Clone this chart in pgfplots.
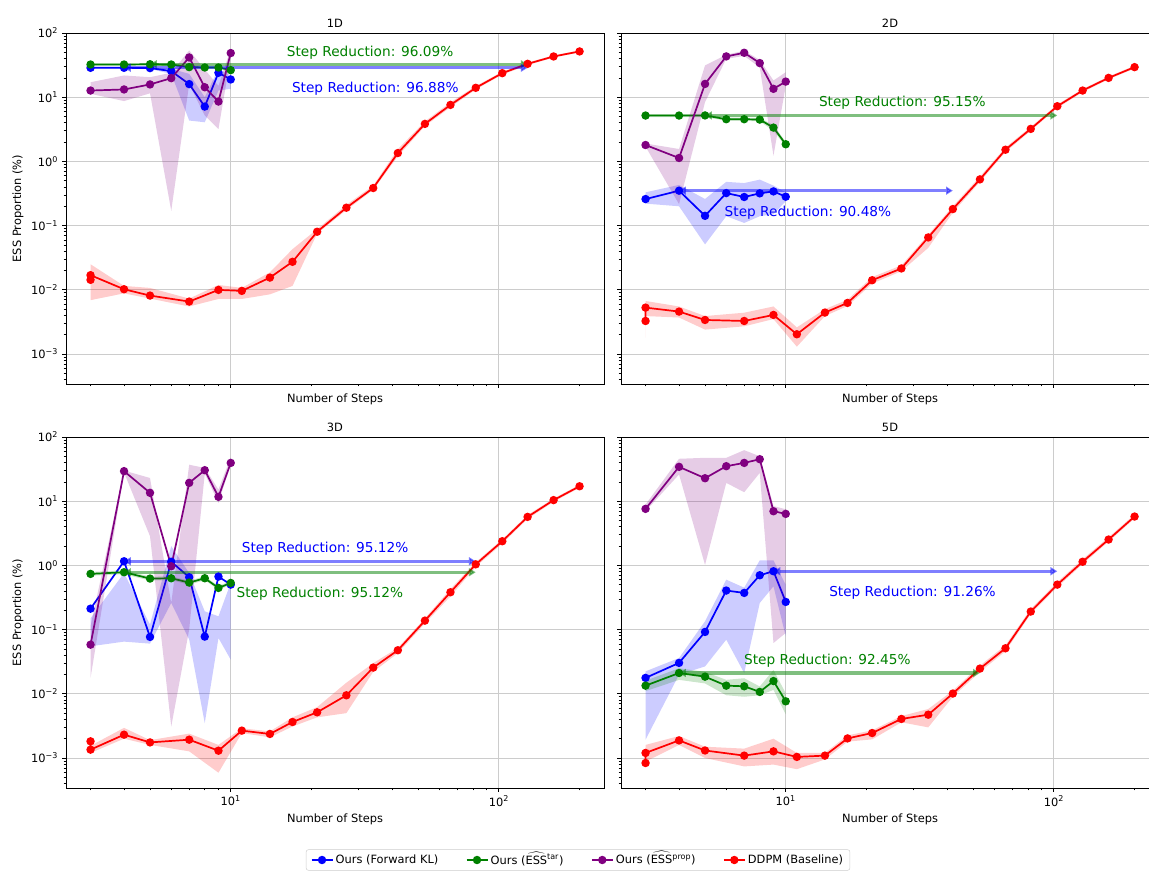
\documentclass[border=0pt]{standalone}
\usepackage{amsmath}
\usepackage{fontspec}
\setmainfont{DejaVu Sans}
\usepackage{pgfplots}
\pgfplotsset{compat=1.18}
\usetikzlibrary{arrows.meta}
\definecolor{mblue}{rgb}{0,0,1}
\definecolor{mgreen}{rgb}{0,0.5,0}
\definecolor{mpurple}{rgb}{0.5,0,0.5}
\definecolor{mred}{rgb}{1,0,0}
\definecolor{gridgray}{rgb}{0.80,0.80,0.80}
\definecolor{legframe}{rgb}{0.8,0.8,0.8}
\pgfplotsset{
  every axis/.append style={
    scale only axis, width=471.83pt, height=307.83pt,
    xmin=2.43, xmax=246.7, ymin=3.41e-4, ymax=100,
    tick align=outside, xtick pos=left, ytick pos=left,
    major tick length=3.5pt, minor tick length=2pt,
    tick style={black, line width=0.8pt},
    minor tick style={line width=0.6pt},
    grid=major, major grid style={line width=0.8pt, color=gridgray},
    axis line style={line width=0.8pt},
    title style={at={(0.5,1)}, anchor=base, yshift=-1pt, inner sep=0pt},
    xlabel={Number of Steps},
  },
}
\newcommand{\sr}{\fontsize{12}{14}\selectfont}
\begin{document}
\begin{tikzpicture}
% ---------------- 1D ----------------
\begin{axis}[xmode=log, ymode=log, title={1D}, at={(57.88pt,-28.94pt)}, anchor=north west,
  xtick={10,100}, minor xtick={3,4,5,6,7,8,9,20,30,40,50,60,70,80,90,200},
  ytick={1e-3,1e-2,1e-1,1,10,100},
  minor ytick={4e-4,5e-4,6e-4,7e-4,8e-4,9e-4,2e-3,3e-3,4e-3,5e-3,6e-3,7e-3,8e-3,9e-3,0.02,0.03,0.04,0.05,0.06,0.07,0.08,0.09,0.2,0.3,0.4,0.5,0.6,0.7,0.8,0.9,2,3,4,5,6,7,8,9,20,30,40,50,60,70,80,90},
  xticklabels={}, xlabel style={at={(axis description cs:0.5,0)}, anchor=base, yshift=-15.9pt},
  yticklabels={10\textsuperscript{−3},10\textsuperscript{−2},10\textsuperscript{−1},10\textsuperscript{0},10\textsuperscript{1},10\textsuperscript{2}},
  ylabel={ESS Proportion (\%)}, ylabel style={at={(axis description cs:-0.0892,0.5)}, anchor=center}]
\addplot[forget plot, draw=none, fill=mblue, fill opacity=0.2] coordinates {(3,29.6)(4,29.6)(5,29.4)(6,27.7)(7,23.1)(8,10)(9,27.7)(10,21.8)(10,13.5)(9,12.7)(8,4.07)(7,4.33)(6,23.1)(5,27.5)(4,27.8)(3,27.8)};
\addplot[forget plot, color=mblue, line width=1.5pt, mark=*, mark size=2.9pt] coordinates {(3,28.7)(4,28.7)(5,28.4)(6,25.5)(7,16.0)(8,7.15)(9,24.0)(10,18.9)};
\addplot[forget plot, draw=none, fill=mgreen, fill opacity=0.2] coordinates {(3,33.5)(4,33.5)(5,34)(6,33.5)(7,31)(8,30.5)(9,30.5)(10,28.5)(10,24.5)(9,28)(8,28)(7,28)(6,31)(5,31.2)(4,31)(3,31)};
\addplot[forget plot, color=mgreen, line width=1.5pt, mark=*, mark size=2.9pt] coordinates {(3,32.3)(4,32.3)(5,32.6)(6,32.3)(7,29.4)(8,29.0)(9,29.0)(10,26.4)};
\addplot[forget plot, draw=none, fill=mpurple, fill opacity=0.2] coordinates {(3,17.1)(4,21.8)(5,20.5)(6,24)(7,53.5)(8,27)(9,15)(10,56)(10,42)(9,3.2)(8,5.2)(7,16)(6,0.17)(5,11.5)(4,8.7)(3,11.3)};
\addplot[forget plot, color=mpurple, line width=1.5pt, mark=*, mark size=2.9pt] coordinates {(3,12.7)(4,13.2)(5,15.8)(6,19.8)(7,41.6)(8,14.3)(9,8.56)(10,48.7)};
\addplot[forget plot, draw=none, fill=mred, fill opacity=0.2] coordinates {(3,0.016)(3,0.025)(4,0.0115)(5,0.0107)(7,0.0073)(9,0.0119)(11,0.0107)(14,0.0187)(17,0.043)(21,0.088)(27,0.21)(34,0.42)(42,1.55)(53,4.2)(66,8.3)(82,14.9)(103,25)(128,34.5)(160,45)(200,53.5)(200,50)(160,41.5)(128,31.5)(103,22.5)(82,13.2)(66,7.0)(53,3.55)(42,1.2)(34,0.36)(27,0.175)(21,0.075)(17,0.0115)(14,0.0085)(11,0.0072)(9,0.0072)(7,0.0055)(5,0.0073)(4,0.0088)(3,0.0069)(3,0.0125)};
\addplot[forget plot, color=mred, line width=1.5pt, mark=*, mark size=2.9pt] coordinates {(3,0.0143)(3,0.0169)(4,0.0102)(5,0.00813)(7,0.00656)(9,0.00997)(11,0.00962)(14,0.0155)(17,0.0273)(21,0.0802)(27,0.190)(34,0.385)(42,1.35)(53,3.84)(66,7.59)(82,14.0)(103,23.7)(128,33.1)(160,43.1)(200,51.6)};
\addplot[forget plot, color=mgreen, mark=none, line width=2.8pt, opacity=0.5, arrows={Triangle[length=6pt,width=7pt]-Triangle[length=6pt,width=7pt]}] coordinates {(5,32.6)(128,32.6)};
\addplot[forget plot, color=mblue, mark=none, line width=2.8pt, opacity=0.5, arrows={Triangle[length=6pt,width=7pt]-Triangle[length=6pt,width=7pt]}] coordinates {(4,28.7)(128,28.7)};
\node[text=mgreen, font=\sr] at (axis cs:33.1,49.3) {Step Reduction: 96.09\%};
\node[text=mblue, font=\sr] at (axis cs:34.6,13.4) {Step Reduction: 96.88\%};
\end{axis}
% ---------------- 2D ----------------
\begin{axis}[xmode=log, ymode=log, title={2D}, at={(544.62pt,-28.94pt)}, anchor=north west,
  xtick={10,100}, minor xtick={3,4,5,6,7,8,9,20,30,40,50,60,70,80,90,200},
  ytick={1e-3,1e-2,1e-1,1,10,100},
  minor ytick={4e-4,5e-4,6e-4,7e-4,8e-4,9e-4,2e-3,3e-3,4e-3,5e-3,6e-3,7e-3,8e-3,9e-3,0.02,0.03,0.04,0.05,0.06,0.07,0.08,0.09,0.2,0.3,0.4,0.5,0.6,0.7,0.8,0.9,2,3,4,5,6,7,8,9,20,30,40,50,60,70,80,90},
  xticklabels={}, xlabel style={at={(axis description cs:0.5,0)}, anchor=base, yshift=-15.9pt},
  yticklabels={}]
\addplot[forget plot, draw=none, fill=mblue, fill opacity=0.2] coordinates {(3,0.33)(4,0.43)(5,0.26)(6,0.48)(7,0.46)(8,0.52)(9,0.42)(10,0.33)(10,0.24)(9,0.15)(8,0.14)(7,0.11)(6,0.14)(5,0.051)(4,0.20)(3,0.22)};
\addplot[forget plot, color=mblue, line width=1.5pt, mark=*, mark size=2.9pt] coordinates {(3,0.259)(4,0.350)(5,0.142)(6,0.321)(7,0.279)(8,0.318)(9,0.341)(10,0.282)};
\addplot[forget plot, draw=none, fill=mgreen, fill opacity=0.2] coordinates {(3,5.45)(4,5.45)(5,5.5)(6,4.8)(7,4.8)(8,4.75)(9,3.7)(10,2.0)(10,1.7)(9,3.0)(8,4.2)(7,4.3)(6,4.3)(5,4.9)(4,4.9)(3,4.9)};
\addplot[forget plot, color=mgreen, line width=1.5pt, mark=*, mark size=2.9pt] coordinates {(3,5.18)(4,5.18)(5,5.2)(6,4.54)(7,4.54)(8,4.48)(9,3.36)(10,1.85)};
\addplot[forget plot, draw=none, fill=mpurple, fill opacity=0.2] coordinates {(3,1.9)(4,1.56)(5,31.2)(6,45.8)(7,53)(8,38)(9,18.2)(10,24.5)(10,15)(9,1.23)(8,29)(7,44)(6,39.6)(5,8.4)(4,0.216)(3,1.7)};
\addplot[forget plot, color=mpurple, line width=1.5pt, mark=*, mark size=2.9pt] coordinates {(3,1.80)(4,1.13)(5,16.1)(6,43.2)(7,49.2)(8,34.0)(9,13.5)(10,17.5)};
\addplot[forget plot, draw=none, fill=mred, fill opacity=0.2] coordinates {(3,3.6e-3)(3,6.7e-3)(4,5.5e-3)(5,3.9e-3)(7,4.4e-3)(9,5.5e-3)(11,2.6e-3)(14,5.0e-3)(17,7.0e-3)(21,0.0158)(27,0.024)(34,0.072)(42,0.2)(53,0.58)(66,1.65)(82,3.45)(103,7.7)(128,13.4)(160,21)(200,31)(200,28)(160,19)(128,12)(103,6.8)(82,3.0)(66,1.4)(53,0.48)(42,0.16)(34,0.045)(27,0.0195)(21,0.0125)(17,5.6e-3)(14,3.9e-3)(11,1.3e-3)(9,3.5e-3)(7,2.7e-3)(5,2.4e-3)(4,3.7e-3)(3,3.9e-3)(3,1.8e-3)};
\addplot[forget plot, color=mred, line width=1.5pt, mark=*, mark size=2.9pt] coordinates {(3,3.27e-3)(3,5.28e-3)(4,4.58e-3)(5,3.39e-3)(7,3.27e-3)(9,4.06e-3)(11,2.03e-3)(14,4.42e-3)(17,6.25e-3)(21,0.0141)(27,0.0215)(34,0.0654)(42,0.181)(53,0.525)(66,1.52)(82,3.21)(103,7.24)(128,12.7)(160,20.0)(200,29.4)};
\addplot[forget plot, color=mgreen, mark=none, line width=2.8pt, opacity=0.5, arrows={Triangle[length=6pt,width=7pt]-Triangle[length=6pt,width=7pt]}] coordinates {(5,5.2)(103,5.2)};
\addplot[forget plot, color=mblue, mark=none, line width=2.8pt, opacity=0.5, arrows={Triangle[length=6pt,width=7pt]-Triangle[length=6pt,width=7pt]}] coordinates {(4,0.35)(42,0.35)};
\node[text=mgreen, font=\sr] at (axis cs:27.2,8.1) {Step Reduction: 95.15\%};
\node[text=mblue, font=\sr] at (axis cs:12.1,0.159) {Step Reduction: 90.48\%};
\end{axis}
% ---------------- 3D ----------------
\begin{axis}[xmode=log, ymode=log, title={3D}, at={(57.88pt,-383.25pt)}, anchor=north west,
  xtick={10,100}, minor xtick={3,4,5,6,7,8,9,20,30,40,50,60,70,80,90,200},
  ytick={1e-3,1e-2,1e-1,1,10,100},
  minor ytick={4e-4,5e-4,6e-4,7e-4,8e-4,9e-4,2e-3,3e-3,4e-3,5e-3,6e-3,7e-3,8e-3,9e-3,0.02,0.03,0.04,0.05,0.06,0.07,0.08,0.09,0.2,0.3,0.4,0.5,0.6,0.7,0.8,0.9,2,3,4,5,6,7,8,9,20,30,40,50,60,70,80,90},
  xticklabels={10\textsuperscript{1},10\textsuperscript{2}}, xlabel style={at={(axis description cs:0.5,0)}, anchor=base, yshift=-29.9pt},
  yticklabels={10\textsuperscript{−3},10\textsuperscript{−2},10\textsuperscript{−1},10\textsuperscript{0},10\textsuperscript{1},10\textsuperscript{2}},
  ylabel={ESS Proportion (\%)}, ylabel style={at={(axis description cs:-0.0892,0.5)}, anchor=center},
  legend style={at={(axis description cs:0.9517,-0.2051)}, anchor=center, draw=legframe, fill=white, rounded corners=2pt,
    inner xsep=4pt, inner ysep=2pt,
    /tikz/every even column/.append style={column sep=22pt}},
  legend columns=4, legend cell align=left,
  legend image code/.code={\draw[mark repeat=2, mark phase=2, #1] plot coordinates {(0pt,0pt) (9.2pt,0pt) (18.4pt,0pt)};}]
\addlegendimage{color=mblue, line width=1.5pt, mark=*, mark size=2.9pt}
\addlegendentry{Ours (Forward KL)}
\addlegendimage{color=mgreen, line width=1.5pt, mark=*, mark size=2.9pt}
\addlegendentry{Ours ($\smash{\widehat{\text{ESS}}}^{\text{tar}}$)}
\addlegendimage{color=mpurple, line width=1.5pt, mark=*, mark size=2.9pt}
\addlegendentry{Ours ($\smash{\widehat{\text{ESS}}}^{\text{prop}}$)}
\addlegendimage{color=mred, line width=1.5pt, mark=*, mark size=2.9pt}
\addlegendentry{DDPM (Baseline)}
\addplot[forget plot, draw=none, fill=mblue, fill opacity=0.2] coordinates {(3,0.15)(4,0.76)(5,0.12)(6,1.99)(7,0.76)(8,0.193)(9,0.161)(10,0.533)(10,0.034)(9,0.074)(8,0.0035)(7,0.07)(6,0.26)(5,0.0605)(4,0.065)(3,0.055)};
\addplot[forget plot, color=mblue, line width=1.5pt, mark=*, mark size=2.9pt] coordinates {(3,0.212)(4,1.16)(5,0.0769)(6,1.14)(7,0.655)(8,0.0778)(9,0.670)(10,0.502)};
\addplot[forget plot, draw=none, fill=mgreen, fill opacity=0.2] coordinates {(3,0.79)(4,0.84)(5,0.67)(6,0.675)(7,0.58)(8,0.675)(9,0.48)(10,0.57)(10,0.5)(9,0.415)(8,0.59)(7,0.5)(6,0.59)(5,0.58)(4,0.73)(3,0.69)};
\addplot[forget plot, color=mgreen, line width=1.5pt, mark=*, mark size=2.9pt] coordinates {(3,0.738)(4,0.783)(5,0.624)(6,0.631)(7,0.540)(8,0.631)(9,0.446)(10,0.533)};
\addplot[forget plot, draw=none, fill=mpurple, fill opacity=0.2] coordinates {(3,0.113)(4,30)(5,23)(6,0.26)(7,37)(8,33)(9,15.2)(10,48)(10,38)(9,9.4)(8,27)(7,0.1)(6,3.1e-3)(5,2.85)(4,28)(3,0.0177)};
\addplot[forget plot, color=mpurple, line width=1.5pt, mark=*, mark size=2.9pt] coordinates {(3,0.0583)(4,29.4)(5,13.5)(6,0.97)(7,19.3)(8,30.4)(9,11.7)(10,39.5)};
\addplot[forget plot, draw=none, fill=mred, fill opacity=0.2] coordinates {(3,2.0e-3)(3,1.55e-3)(4,2.95e-3)(5,1.9e-3)(7,2.4e-3)(9,1.6e-3)(11,2.9e-3)(14,2.6e-3)(17,4.3e-3)(21,6.2e-3)(27,0.0149)(34,0.03)(42,0.052)(53,0.15)(66,0.43)(82,1.12)(103,2.55)(128,6.1)(160,11)(200,18)(200,16.2)(160,9.8)(128,5.3)(103,2.2)(82,0.95)(66,0.33)(53,0.125)(42,0.043)(34,0.022)(27,5.0e-3)(21,4.3e-3)(17,3.1e-3)(14,2.1e-3)(11,2.45e-3)(9,5.9e-4)(7,1.27e-3)(5,1.6e-3)(4,2.0e-3)(3,1.2e-3)(3,1.6e-3)};
\addplot[forget plot, color=mred, line width=1.5pt, mark=*, mark size=2.9pt] coordinates {(3,1.82e-3)(3,1.35e-3)(4,2.31e-3)(5,1.75e-3)(7,1.93e-3)(9,1.30e-3)(11,2.67e-3)(14,2.37e-3)(17,3.64e-3)(21,5.15e-3)(27,9.48e-3)(34,0.0256)(42,0.0477)(53,0.138)(66,0.382)(82,1.04)(103,2.38)(128,5.70)(160,10.4)(200,17.1)};
\addplot[forget plot, color=mblue, mark=none, line width=2.8pt, opacity=0.5, arrows={Triangle[length=6pt,width=7pt]-Triangle[length=6pt,width=7pt]}] coordinates {(4,1.16)(82,1.16)};
\addplot[forget plot, color=mgreen, mark=none, line width=2.8pt, opacity=0.5, arrows={Triangle[length=6pt,width=7pt]-Triangle[length=6pt,width=7pt]}] coordinates {(4,0.783)(82,0.783)};
\node[text=mblue, font=\sr] at (axis cs:22.5,1.85) {Step Reduction: 95.12\%};
\node[text=mgreen, font=\sr] at (axis cs:21.5,0.367) {Step Reduction: 95.12\%};
\end{axis}
% ---------------- 5D ----------------
\begin{axis}[xmode=log, ymode=log, title={5D}, at={(544.62pt,-383.25pt)}, anchor=north west,
  xtick={10,100}, minor xtick={3,4,5,6,7,8,9,20,30,40,50,60,70,80,90,200},
  ytick={1e-3,1e-2,1e-1,1,10,100},
  minor ytick={4e-4,5e-4,6e-4,7e-4,8e-4,9e-4,2e-3,3e-3,4e-3,5e-3,6e-3,7e-3,8e-3,9e-3,0.02,0.03,0.04,0.05,0.06,0.07,0.08,0.09,0.2,0.3,0.4,0.5,0.6,0.7,0.8,0.9,2,3,4,5,6,7,8,9,20,30,40,50,60,70,80,90},
  xticklabels={10\textsuperscript{1},10\textsuperscript{2}}, xlabel style={at={(axis description cs:0.5,0)}, anchor=base, yshift=-29.9pt},
  yticklabels={}]
\addplot[forget plot, draw=none, fill=mblue, fill opacity=0.2] coordinates {(3,0.0224)(4,0.0361)(5,0.135)(6,0.6)(7,0.45)(8,1.2)(9,1.2)(10,0.5)(10,0.0787)(9,0.473)(8,0.26)(7,0.0211)(6,0.0698)(5,0.0267)(4,0.0199)(3,1.93e-3)};
\addplot[forget plot, color=mblue, line width=1.5pt, mark=*, mark size=2.9pt] coordinates {(3,0.0177)(4,0.0303)(5,0.092)(6,0.406)(7,0.373)(8,0.703)(9,0.811)(10,0.270)};
\addplot[forget plot, draw=none, fill=mgreen, fill opacity=0.2] coordinates {(3,0.016)(4,0.025)(5,0.022)(6,0.0165)(7,0.0175)(8,0.013)(9,0.0235)(10,0.0102)(10,0.0048)(9,0.0115)(8,0.0095)(7,0.009)(6,0.0095)(5,0.0145)(4,0.0165)(3,0.011)};
\addplot[forget plot, color=mgreen, line width=1.5pt, mark=*, mark size=2.9pt] coordinates {(3,0.0134)(4,0.0211)(5,0.0185)(6,0.0134)(7,0.0131)(8,0.0107)(9,0.0158)(10,0.00764)};
\addplot[forget plot, draw=none, fill=mpurple, fill opacity=0.2] coordinates {(3,8.87)(4,45.8)(5,47.4)(6,47.4)(7,62.4)(8,50.1)(9,8.4)(10,7.5)(10,0.0887)(9,0.0619)(8,27.6)(7,13.8)(6,19.3)(5,1.02)(4,26.1)(3,7.0)};
\addplot[forget plot, color=mpurple, line width=1.5pt, mark=*, mark size=2.9pt] coordinates {(3,7.6)(4,34.3)(5,22.8)(6,35.1)(7,39.5)(8,45.1)(9,6.98)(10,6.35)};
\addplot[forget plot, draw=none, fill=mred, fill opacity=0.2] coordinates {(3,9.5e-4)(3,1.6e-3)(4,2.2e-3)(5,1.5e-3)(7,1.4e-3)(9,2.0e-3)(11,1.2e-3)(14,1.2e-3)(17,2.25e-3)(21,2.7e-3)(27,4.5e-3)(34,5.8e-3)(42,0.0112)(53,0.0275)(66,0.057)(82,0.21)(103,0.55)(128,1.25)(160,2.75)(200,6.2)(200,5.4)(160,2.35)(128,1.05)(103,0.46)(82,0.175)(66,0.046)(53,0.022)(42,9.0e-3)(34,3.0e-3)(27,3.6e-3)(21,1.95e-3)(17,1.8e-3)(14,9.5e-4)(11,6.7e-4)(9,7.9e-4)(7,7.4e-4)(5,1.0e-3)(4,1.6e-3)(3,0.88e-3)(3,7.5e-4)};
\addplot[forget plot, color=mred, line width=1.5pt, mark=*, mark size=2.9pt] coordinates {(3,8.36e-4)(3,1.20e-3)(4,1.88e-3)(5,1.31e-3)(7,1.09e-3)(9,1.27e-3)(11,1.04e-3)(14,1.09e-3)(17,2.02e-3)(21,2.45e-3)(27,4.06e-3)(34,4.73e-3)(42,0.0101)(53,0.0247)(66,0.0512)(82,0.191)(103,0.502)(128,1.14)(160,2.53)(200,5.77)};
\addplot[forget plot, color=mblue, mark=none, line width=2.8pt, opacity=0.5, arrows={Triangle[length=6pt,width=7pt]-Triangle[length=6pt,width=7pt]}] coordinates {(9,0.811)(103,0.811)};
\addplot[forget plot, color=mgreen, mark=none, line width=2.8pt, opacity=0.5, arrows={Triangle[length=6pt,width=7pt]-Triangle[length=6pt,width=7pt]}] coordinates {(4,0.0211)(53,0.0211)};
\node[text=mblue, font=\sr] at (axis cs:29.7,0.376) {Step Reduction: 91.26\%};
\node[text=mgreen, font=\sr] at (axis cs:14.3,0.0328) {Step Reduction: 92.45\%};
\end{axis}
\pgfresetboundingbox
\path[use as bounding box] (0,0) rectangle (1007.67pt,-764.74pt);
\end{tikzpicture}
\end{document}
